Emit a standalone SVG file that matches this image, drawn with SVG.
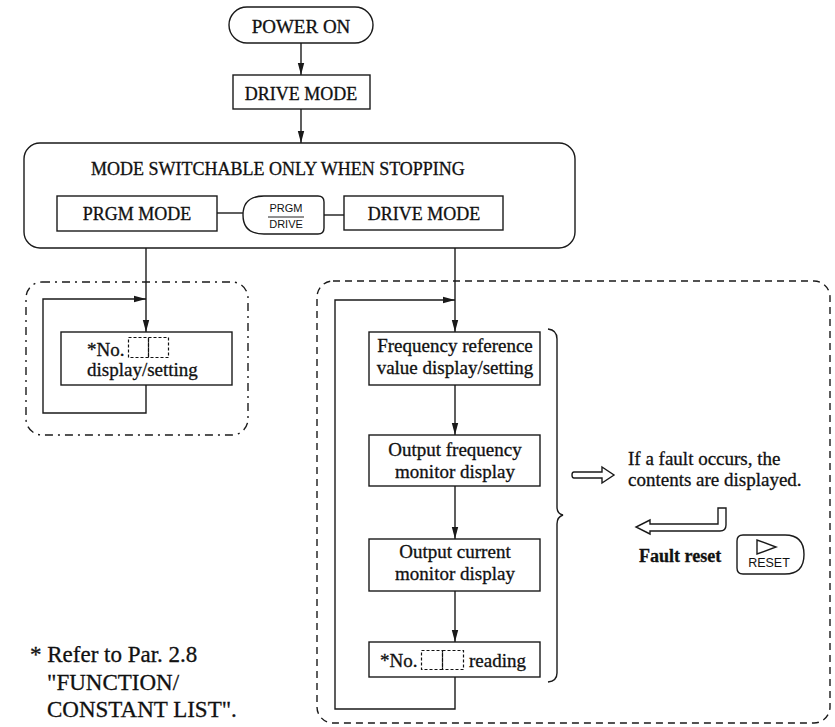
<svg xmlns="http://www.w3.org/2000/svg" width="835" height="727" viewBox="0 0 835 727">
<style>
.ln{fill:none;stroke:#1a1a1a;stroke-width:1.4}
.bx{fill:#fff;stroke:#1a1a1a;stroke-width:1.4}
.t{font-family:"Liberation Serif","Times New Roman",serif;font-size:19px;fill:#111;stroke:#111;stroke-width:0.3}
.s18{font-size:18px}
.s23{font-size:23px}
.b{font-weight:bold;font-size:18px}
.c{text-anchor:middle}
.k{font-family:"Liberation Sans",Arial,sans-serif;fill:#111;text-anchor:middle}
.mini{fill:none;stroke:#111;stroke-width:1.2;stroke-dasharray:3,2}
</style>
<defs>
<marker id="ah" viewBox="0 0 12 8" refX="12" refY="4" markerWidth="12" markerHeight="8" markerUnits="userSpaceOnUse" orient="auto">
<path d="M0,0.8 L12,4 L0,7.2 Z" fill="#1a1a1a"/>
</marker>
</defs>
<rect width="835" height="727" fill="#fff"/>

<g id="groups">
<rect id="left-group" x="26" y="282" width="222" height="153" rx="16" class="ln" stroke-dasharray="8,5,2,5"/>
<rect id="right-group" x="317" y="281" width="513" height="442" rx="16" class="ln" stroke-dasharray="7,5"/>
</g>

<g id="power-on">
<rect x="229" y="7" width="144" height="36" rx="18" class="bx"/>
<text x="301" y="33" class="t c">POWER ON</text>
</g>

<g id="drive-mode-top">
<rect x="233" y="75" width="137" height="34" class="bx"/>
<text x="301" y="100" class="t c s18">DRIVE MODE</text>
</g>

<g id="mode-switch">
<rect x="24" y="143" width="551" height="105" rx="16" class="bx"/>
<text x="91" y="175" class="t s18">MODE SWITCHABLE ONLY WHEN STOPPING</text>
</g>

<g id="prgm-mode">
<rect x="57" y="196" width="160" height="35" class="bx"/>
<text x="137" y="220" class="t c s18">PRGM MODE</text>
</g>

<g id="prgm-drive-key">
<path d="M264,196 H318 Q324,196 324,202 V228 Q324,234 318,234 H264 Q243,234 243,215 Q243,196 264,196 Z" class="bx"/>
<text x="286" y="212" class="k" font-size="11">PRGM</text>
<line x1="268" y1="217" x2="304" y2="217" stroke="#222" stroke-width="1"/>
<text x="286" y="228" class="k" font-size="11">DRIVE</text>
</g>

<g id="drive-mode">
<rect x="344" y="196" width="159" height="34" class="bx"/>
<text x="424" y="220" class="t c s18">DRIVE MODE</text>
</g>

<g id="no-display-setting">
<rect x="61" y="332" width="171" height="53" class="bx"/>
<text x="87" y="356" class="t">*No.</text>
<rect x="128.5" y="337.5" width="20" height="20" class="mini"/>
<rect x="148.5" y="337.5" width="20" height="20" class="mini"/>
<text x="87" y="376" class="t">display/setting</text>
</g>

<g id="freq-ref">
<rect x="369" y="332" width="171" height="53" class="bx"/>
<text x="455" y="352" class="t c">Frequency reference</text>
<text x="455" y="374" class="t c">value display/setting</text>
</g>

<g id="output-freq">
<rect x="369" y="435" width="171" height="51" class="bx"/>
<text x="455" y="456" class="t c">Output frequency</text>
<text x="455" y="478" class="t c">monitor display</text>
</g>

<g id="output-current">
<rect x="369" y="539" width="171" height="52" class="bx"/>
<text x="455" y="558" class="t c">Output current</text>
<text x="455" y="580" class="t c">monitor display</text>
</g>

<g id="no-reading">
<rect x="369" y="642" width="171" height="35" class="bx"/>
<text x="380" y="667" class="t">*No.</text>
<rect x="421.5" y="650.5" width="21" height="19" class="mini"/>
<rect x="442.5" y="650.5" width="21" height="19" class="mini"/>
<text x="469" y="667" class="t">reading</text>
</g>

<g id="fault-note">
<text x="628" y="465" class="t">If a fault occurs, the</text>
<text x="628" y="486" class="t">contents are displayed.</text>
<text x="639" y="562" class="t b">Fault reset</text>
</g>

<g id="reset-key">
<path d="M743,535 H785 Q804,535 804,554.5 Q804,574 785,574 H743 Q737,574 737,568 V541 Q737,535 743,535 Z" class="bx"/>
<path d="M757,540 L757,554 L776,547 Z" class="ln" stroke-width="1.1"/>
<text x="769" y="567" class="k" font-size="12.5">RESET</text>
</g>

<g id="footnote">
<text x="30" y="662" class="t s23">* Refer to Par. 2.8</text>
<text x="47" y="690" class="t s23">"FUNCTION/</text>
<text x="47" y="717" class="t s23">CONSTANT LIST".</text>
</g>

<g id="connectors">
<line x1="301" y1="43" x2="301" y2="75" class="ln" marker-end="url(#ah)"/>
<line x1="301" y1="109" x2="301" y2="143" class="ln" marker-end="url(#ah)"/>
<line x1="217" y1="213" x2="243" y2="213" class="ln"/>
<line x1="324" y1="215" x2="344" y2="215" class="ln"/>
<line x1="146" y1="248" x2="146" y2="332" class="ln" marker-end="url(#ah)"/>
<polyline points="146,385 146,413 43,413 43,299 146,299" class="ln" marker-end="url(#ah)"/>
<line x1="455" y1="248" x2="455" y2="332" class="ln" marker-end="url(#ah)"/>
<polyline points="455,677 455,709 335,709 335,300 455,300" class="ln" marker-end="url(#ah)"/>
<line x1="455" y1="385" x2="455" y2="435" class="ln" marker-end="url(#ah)"/>
<line x1="455" y1="486" x2="455" y2="539" class="ln" marker-end="url(#ah)"/>
<line x1="455" y1="591" x2="455" y2="642" class="ln" marker-end="url(#ah)"/>
<path d="M548,329 Q557,330 557,339 V507 Q557,514 563,515 Q557,517 557,524 V673 Q557,681 548,682" class="ln"/>
<path d="M574,472 H602 V467 L614,475 L602,483 V478 H574 Q572,478 572,475 Q572,472 574,472 Z" class="ln" stroke-width="1.3"/>
<path d="M718,508 H726 V525 Q726,531 720,531 H650 V534 L636,527 L650,520 V524 H718 Z" class="ln" stroke-width="1.3"/>
</g>
</svg>
